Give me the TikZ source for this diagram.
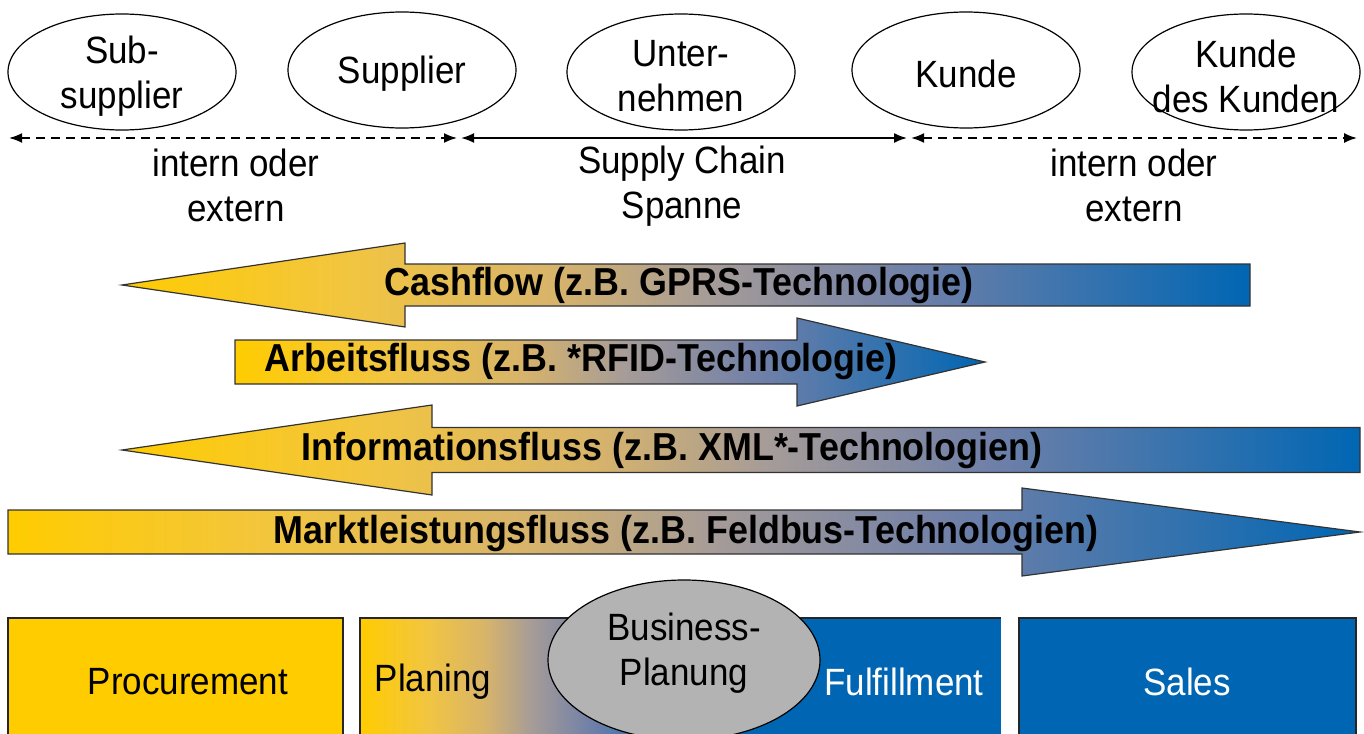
\documentclass[tikz,border=0pt]{standalone}
\usepackage{fontspec}
\setmainfont{Liberation Sans}[FakeStretch=0.92]
\usetikzlibrary{shapes.geometric,arrows.meta,positioning}
\definecolor{flowyellow}{RGB}{255,204,0}
\definecolor{flowlight}{RGB}{242,197,64}
\definecolor{flowtan}{RGB}{216,180,106}
\definecolor{flowgray}{RGB}{166,156,152}
\definecolor{flowslate}{RGB}{112,128,168}
\definecolor{flowblue}{RGB}{0,102,179}
\definecolor{planunggray}{RGB}{179,179,179}
\pgfdeclarehorizontalshading{flowshading}{100bp}{color(0bp)=(flowyellow); color(25bp)=(flowyellow); color(35bp)=(flowlight); color(44bp)=(flowtan); color(51bp)=(flowgray); color(60bp)=(flowslate); color(75bp)=(flowblue); color(100bp)=(flowblue)}
\newcommand{\partyfont}{\fontsize{38}{45}\selectfont}
\newcommand{\flowfont}{\fontsize{39}{45}\selectfont\bfseries}
\tikzstyle{party}=[ellipse,draw,line width=1.2pt,minimum width=228pt,minimum height=116pt,inner sep=0pt]
\tikzstyle{partytext}=[align=center,inner sep=0pt,yshift=-4pt,font=\partyfont]
\tikzstyle{span}=[{Latex[length=13pt,width=10pt]}-{Latex[length=13pt,width=10pt]},line width=1.8pt]
\tikzstyle{openspan}=[span,dash pattern=on 9pt off 6pt]
\tikzstyle{spantext}=[align=center,inner sep=0pt,font=\partyfont]
\tikzstyle{flowarrow}=[shade,shading=flowshading,draw=black!80,line width=1.2pt]
\tikzstyle{flowlabel}=[inner sep=0pt,font=\flowfont]
\tikzstyle{area}=[draw=black!85,line width=1.2pt]
\tikzstyle{areatext}=[inner sep=0pt,font=\partyfont]
% arrow pointing left: tip x, head x, end x, mid y, half shaft
\newcommand{\flowleft}[5]{
  \pgfmathsetmacro{\headhalf}{2*#5}
  \draw[flowarrow] (#1,#4) -- (#2,#4-\headhalf) -- (#2,#4-#5) -- (#3,#4-#5)
    -- (#3,#4+#5) -- (#2,#4+#5) -- (#2,#4+\headhalf) -- cycle;
}
% arrow pointing right: start x, head x, tip x, mid y, half shaft
\newcommand{\flowright}[5]{
  \pgfmathsetmacro{\headhalf}{2*#5}
  \draw[flowarrow] (#1,#4-#5) -- (#2,#4-#5) -- (#2,#4-\headhalf) -- (#3,#4)
    -- (#2,#4+\headhalf) -- (#2,#4+#5) -- (#1,#4+#5) -- cycle;
}
\begin{document}
\begin{tikzpicture}[x=1pt,y=-1pt]
	\clip (0,0) rectangle (1364,733);
	% parties of the chain
	\node[party,label={[partytext]center:{Sub-\\supplier}}] (subsupplier) at (122,72) {};
	\node[party,label={[partytext]center:{Supplier}}] (supplier) at (402,70) {};
	\node[party,label={[partytext]center:{Unter-\\nehmen}}] (unternehmen) at (681,72) {};
	\node[party,label={[partytext]center:{Kunde}}] (kunde) at (966,70) {};
	\node[party,label={[partytext]center:{Kunde\\des Kunden}}] (kundekunde) at (1246,72) {};
	% spans
	\coordinate (farleft) at (9,138);
	\coordinate (spanleft) at (457,138);
	\coordinate (chainleft) at (461,138);
	\coordinate (chainright) at (907,138);
	\coordinate (spanright) at (911,138);
	\coordinate (farright) at (1357,138);
	\draw[openspan] (farleft) -- (spanleft);
	\draw[span] (chainleft) -- (chainright);
	\draw[openspan] (spanright) -- (farright);
	\node[spantext] (internleft) at (236,185) {intern oder\\extern};
	\node[spantext] (chainspan) at (682,186) {Supply Chain\\Spanne};
	\node[spantext] (internright) at (1134,185) {intern oder\\extern};
	% flows
	\flowleft{122}{405}{1250}{285}{21}
	\node[flowlabel] (cashflow) at (679,285) {Cashflow (z.B. GPRS-Technologie)};
	\flowright{235}{797}{985}{362}{22}
	\node[flowlabel] (arbeitsfluss) at (581,361) {Arbeitsfluss (z.B. *RFID-Technologie)};
	\flowleft{122}{432}{1360}{450}{22.5}
	\node[flowlabel] (informationsfluss) at (672,450) {Informationsfluss (z.B. XML*-Technologien)};
	\flowright{8}{1022}{1360}{532}{22}
	\node[flowlabel] (marktfluss) at (686,533) {Marktleistungsfluss (z.B. Feldbus-Technologien)};
	% functions
	\draw[area,fill=flowyellow] (8,618) rectangle (343,750);
	\fill[flowblue] (680,618) rectangle (1001,750);
	\shade[shading=flowshading] (360,618) rectangle (690,750);
	\draw[area] (1001,618) -- (360,618) -- (360,750);
	\draw[area,fill=flowblue] (1019,618) rectangle (1356,750);
	\node[areatext] (procurement) at (188,682) {Procurement};
	\node[areatext] (planing) at (433,682) {Planing};
	\node[areatext,text=white] (fulfillment) at (904,682) {Fulfillment};
	\node[areatext,text=white] (sales) at (1187,682) {Sales};
	\node[ellipse,draw,line width=1.2pt,fill=planunggray,minimum width=272pt,minimum height=160pt,inner sep=0pt] (planung) at (684,660) {};
	\node[spantext] (planungtext) at (684,653) {Business-\\Planung};
\end{tikzpicture}
\end{document}
